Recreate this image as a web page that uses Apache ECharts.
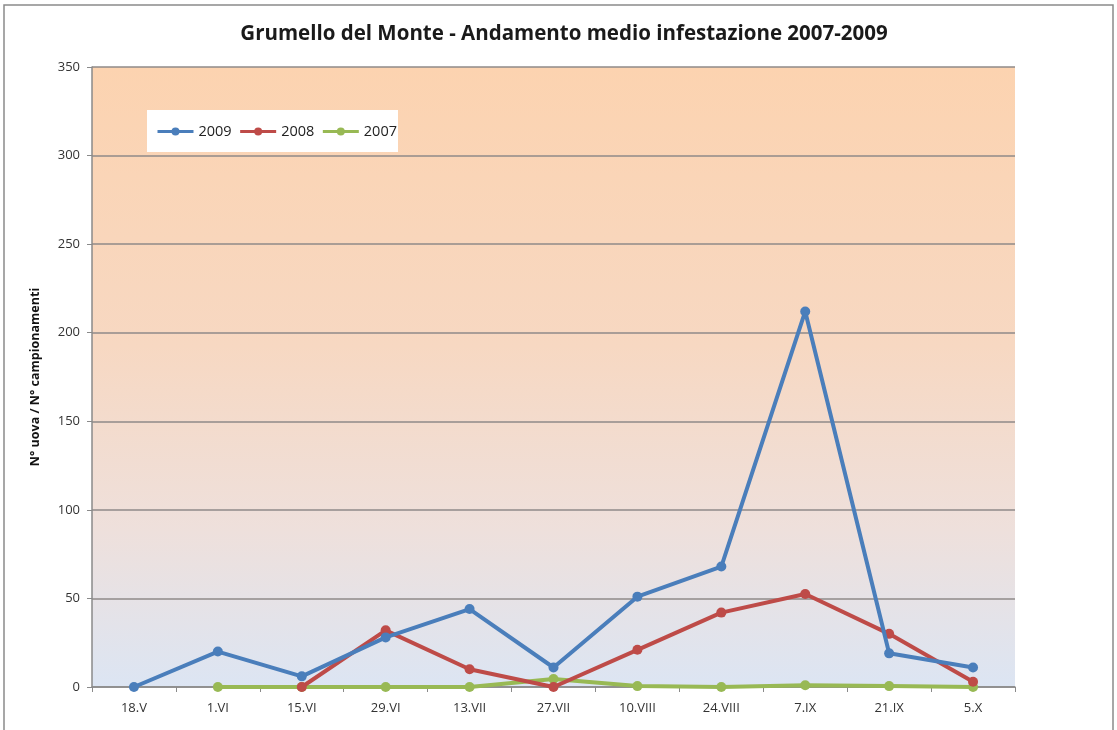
<!DOCTYPE html>
<html>
<head>
<meta charset="utf-8">
<script src="https://cdn.jsdelivr.net/npm/echarts@6/dist/echarts.min.js"></script>
<style>
  html,body{margin:0;padding:0;background:#fff;}
  #main{width:1117px;height:730px;}
</style>
</head>
<body>
<div id="main"></div>
<script>
var categories=['18.V','1.VI','15.VI','29.VI','13.VII','27.VII','10.VIII','24.VIII','7.IX','21.IX','5.X'];
var s2009=[0,20,6,28,44,11,51,68,212,19,11];
var s2008=[null,null,0,32,10,0,21,42,52.5,30,3];
var s2007=[null,0,0,0,0,4.5,0.5,0,1,0.5,0];
var yTicks=[0,50,100,150,200,250,300,350];

var myChart=echarts.init(document.getElementById('main'));
var fontFam='"Open Sans", "Noto Sans", sans-serif';

function line(name,data,color){
  return {
    name:name,
    type:'line',
    data:data,
    symbol:'circle',
    symbolSize:10,
    connectNulls:false,
    lineStyle:{color:color,width:4},
    itemStyle:{color:color},
    z: name=='2009'?4:(name=='2008'?3:2)
  };
}

var option={
  animation:false,
  textStyle:{fontFamily:fontFam},
  title:{
    text:'Grumello del Monte - Andamento medio infestazione 2007-2009',
    left:559,
    textAlign:'center',
    top:19,
    textStyle:{fontSize:20.5,fontWeight:'bold',color:'#1a1a1a',fontFamily:fontFam}
  },
  graphic:[
    {type:'rect',shape:{x:4,y:5,width:1109,height:740},style:{fill:'none',stroke:'#8a8a8a',lineWidth:1.5},silent:true,z:-10},
    {type:'rect',shape:{x:147,y:110,width:251,height:42},style:{fill:'#fff',stroke:'none'},silent:true,z:5}
  ],
  legend:{
    left:156,
    top:124,
    padding:0,
    itemWidth:36,
    itemHeight:10,
    itemGap:7,
    z:6,
    textStyle:{fontSize:14.5,color:'#222'},
    lineStyle:{width:3},
    data:['2009','2008','2007']
  },
  grid:{
    left:92,
    right:102,
    top:67,
    bottom:43,
    show:true,
    borderWidth:0,
    backgroundColor:new echarts.graphic.LinearGradient(0,0,0,1,[
      {offset:0,color:'#fcd3b0'},
      {offset:0.45,color:'#f7d8c2'},
      {offset:0.75,color:'#eee0dc'},
      {offset:1,color:'#dce5f3'}
    ])
  },
  xAxis:{
    type:'category',
    data:categories,
    boundaryGap:true,
    axisLine:{lineStyle:{color:'#8a8a8a',width:1.5}},
    axisTick:{show:true,length:5,lineStyle:{color:'#8a8a8a'}},
    axisLabel:{fontSize:13,color:'#333',margin:15}
  },
  yAxis:{
    type:'value',
    min:0,
    max:350,
    interval:50,
    name:'N° uova / N° campionamenti',
    nameLocation:'middle',
    nameGap:50,
    nameTextStyle:{fontSize:12.5,fontWeight:'bold',color:'#111'},
    axisLine:{show:true,lineStyle:{color:'#8a8a8a',width:1.5}},
    axisTick:{show:true,length:5,lineStyle:{color:'#8a8a8a'}},
    axisLabel:{fontSize:13,color:'#333',margin:12,
      formatter:function(v){return yTicks.indexOf(v)>=0?String(v):'';}},
    splitLine:{show:true,lineStyle:{color:'#8f8a88',width:1.5}}
  },
  series:[
    line('2009',s2009,'#4a7ebb'),
    line('2008',s2008,'#be4b48'),
    line('2007',s2007,'#98b954')
  ]
};
myChart.setOption(option);
</script>
</body>
</html>
